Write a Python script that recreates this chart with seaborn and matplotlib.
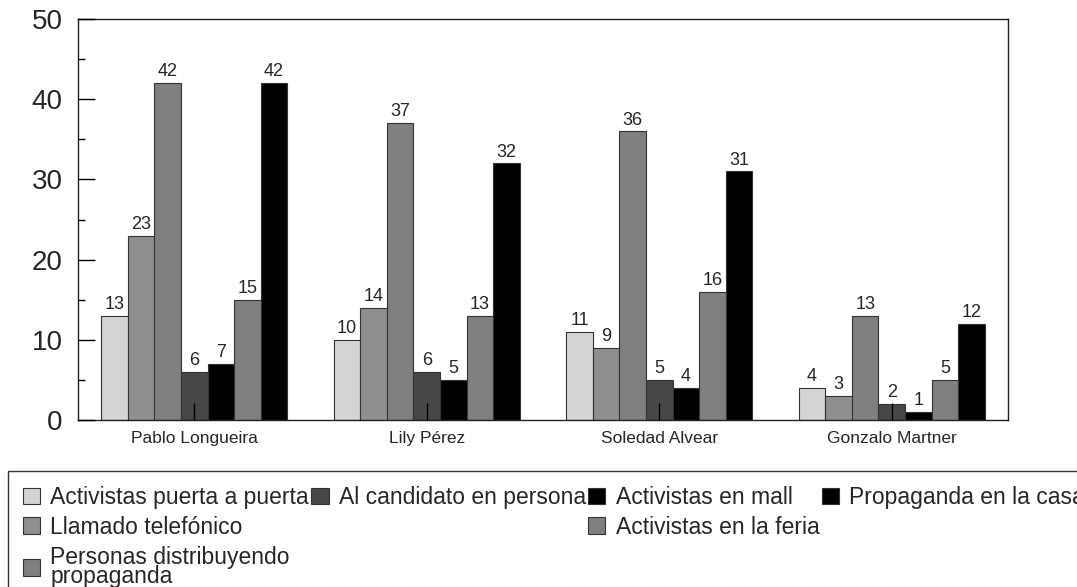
import pandas as pd
import numpy as np
import matplotlib.pyplot as plt
import seaborn as sns
from matplotlib.patches import Patch
from matplotlib.ticker import MultipleLocator

candidates = ["Pablo Longueira", "Lily Pérez", "Soledad Alvear", "Gonzalo Martner"]
methods = ["Activistas puerta a puerta", "Llamado telefónico",
           "Personas distribuyendo\npropaganda", "Al candidato en persona",
           "Activistas en mall", "Activistas en la feria", "Propaganda en la casa"]
puerta = [13, 10, 11, 4]
llamado = [23, 14, 9, 3]
personas = [42, 37, 36, 13]
candidato = [6, 6, 5, 2]
mall = [7, 5, 4, 1]
feria = [15, 13, 16, 5]
casa = [42, 32, 31, 12]
colors = ["#d4d4d4", "#8f8f8f", "#7f7f7f", "#474747", "#000000", "#7f7f7f", "#000000"]

if __name__ == '__main__':
    series = [puerta, llamado, personas, candidato, mall, feria, casa]
    rows = []
    for m, vals in zip(methods, series):
        for c, v in zip(candidates, vals):
            rows.append({"candidato": c, "metodo": m, "valor": v})
    df = pd.DataFrame(rows)

    sns.set_style("white")
    plt.rcParams['font.family'] = ['Liberation Sans', 'DejaVu Sans']

    fig = plt.figure(figsize=(10.77, 5.87), dpi=100)
    ax = fig.add_axes([78/1077, 1-420/587, 930/1077, 401/587])

    sns.barplot(data=df, x="candidato", y="valor", hue="metodo", hue_order=methods,
                order=candidates, palette=colors, saturation=1, errorbar=None,
                edgecolor="#333333", linewidth=0.8, legend=False, ax=ax)

    for cont in ax.containers:
        ax.bar_label(cont, padding=2, fontsize=13)

    ax.set_axisbelow(False)  # ticks drawn over the bars
    ax.set_ylim(0, 50)
    ax.yaxis.set_major_locator(MultipleLocator(10))
    ax.yaxis.set_minor_locator(MultipleLocator(5))
    ax.tick_params(axis='y', which='major', direction='in', length=12, width=1,
                   labelsize=20, pad=11, left=True, color='black')
    ax.tick_params(axis='y', which='minor', direction='in', length=5, width=1,
                   left=True, color='black')
    ax.tick_params(axis='x', direction='in', length=12, width=1, labelsize=12.5,
                   pad=8, bottom=True, color='black')
    ax.set_xlabel("")
    ax.set_ylabel("")
    for s in ax.spines.values():
        s.set_color("#222222")
        s.set_linewidth(1)

    # legend laid out column by column like the original
    handles = [Patch(facecolor=c, edgecolor="#333333", linewidth=0.8) for c in colors]
    blank = Patch(facecolor='none', edgecolor='none')
    hs = [handles[0], handles[1], handles[2],
          handles[3], blank, blank,
          handles[4], handles[5], blank,
          handles[6], blank, blank]
    ls = [methods[0], methods[1], methods[2],
          methods[3], "", "",
          methods[4], methods[5], "",
          methods[6], "", ""]
    leg = fig.legend(hs, ls, ncol=4, loc='upper left',
                     bbox_to_anchor=(8/1077, 1-471/587), borderaxespad=0,
                     fontsize=16.5, frameon=True, fancybox=False, edgecolor='black',
                     handlelength=0.75, handleheight=0.75, handletextpad=0.45,
                     columnspacing=0.1, labelspacing=0.3, borderpad=0.65)
    leg.get_frame().set_linewidth(1)
    for t in leg.get_texts():
        t.set_linespacing(0.8)

    fig.savefig("out.png", dpi=100)
